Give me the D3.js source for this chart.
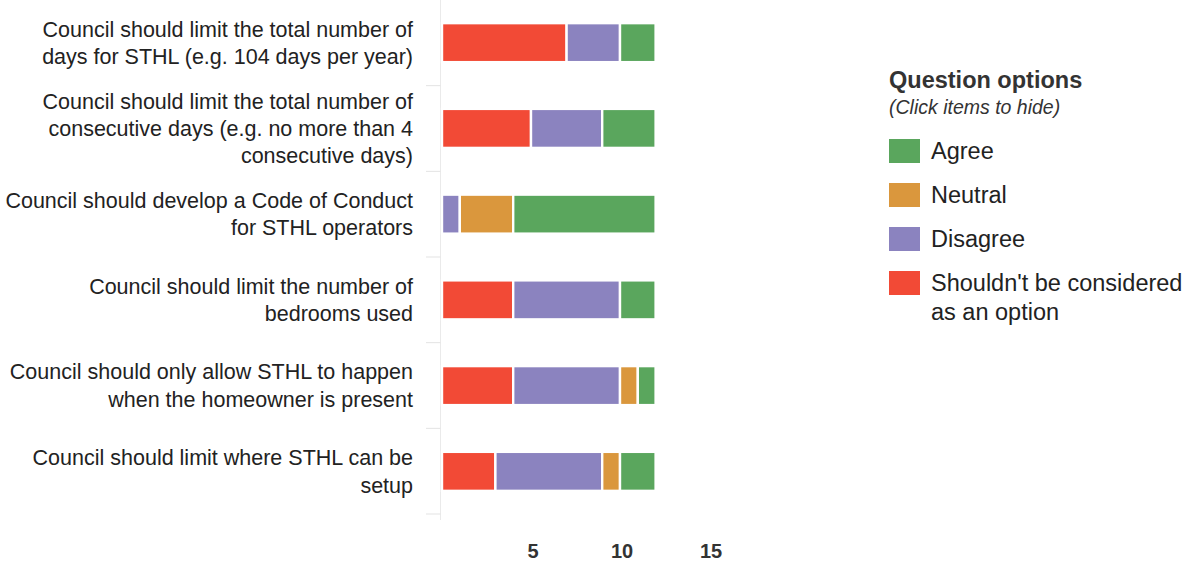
<!DOCTYPE html>
<html>
<head>
<meta charset="utf-8">
<script src="https://cdn.jsdelivr.net/npm/d3@7"></script>
<style>
  html, body { margin: 0; padding: 0; background: #fff; }
  svg { display: block; font-family: "Liberation Sans", Arial, Helvetica, sans-serif; }
</style>
</head>
<body>
<svg id="chart" width="1190" height="568"></svg>
<script>
// Survey statements (line breaks as displayed)
const categories = [
  "Council should limit the total number of\ndays for STHL (e.g. 104 days per year)",
  "Council should limit the total number of\nconsecutive days (e.g. no more than 4\nconsecutive days)",
  "Council should develop a Code of Conduct\nfor STHL operators",
  "Council should limit the number of\nbedrooms used",
  "Council should only allow STHL to happen\nwhen the homeowner is present",
  "Council should limit where STHL can be\nsetup"
];

// Response counts per statement (stacked left to right)
const shouldntValues = [7, 5, 0, 4, 4, 3];
const disagreeValues = [3, 4, 1, 6, 6, 6];
const neutralValues  = [0, 0, 3, 0, 1, 1];
const agreeValues    = [2, 3, 8, 2, 1, 2];

const seriesNames  = ["Shouldn't be considered as an option", "Disagree", "Neutral", "Agree"];
const seriesColors = ["#f24a36", "#8b83bf", "#da973d", "#5aa65d"];
const legendOrder  = ["Agree", "Neutral", "Disagree", "Shouldn't be considered as an option"];
const xTicks = [5, 10, 15];

const svg = d3.select("#chart");
const plot = { left: 442, top: 0, bottom: 514 };

const x = d3.scaleLinear().domain([0, 15]).range([plot.left, plot.left + 15 * 17.8]);
const y = d3.scaleBand().domain(d3.range(categories.length)).range([plot.top, plot.bottom]).paddingInner(0.545).paddingOuter(0.27);

const rows = categories.map((c, i) => ({
  [seriesNames[0]]: shouldntValues[i],
  [seriesNames[1]]: disagreeValues[i],
  [seriesNames[2]]: neutralValues[i],
  [seriesNames[3]]: agreeValues[i],
  idx: i
}));
const stacked = d3.stack().keys(seriesNames)(rows);
const color = d3.scaleOrdinal().domain(seriesNames).range(seriesColors);

// Vertical axis line and band separators
const bandStep = (plot.bottom - plot.top) / categories.length;
svg.append("line")
  .attr("x1", plot.left - 1.5).attr("x2", plot.left - 1.5)
  .attr("y1", 0).attr("y2", plot.bottom + 6)
  .attr("stroke", "#eaeaea").attr("stroke-width", 1);
svg.append("g").selectAll("line")
  .data(d3.range(1, categories.length + 1))
  .join("line")
  .attr("x1", plot.left - 16).attr("x2", plot.left - 1.5)
  .attr("y1", d => plot.top + d * bandStep).attr("y2", d => plot.top + d * bandStep)
  .attr("stroke", "#e3e3e3").attr("stroke-width", 1);

// Stacked bars
svg.append("g").selectAll("g")
  .data(stacked)
  .join("g")
  .attr("fill", d => color(d.key))
  .selectAll("rect")
  .data(d => d.filter(s => s[1] - s[0] > 0))
  .join("rect")
  .attr("x", d => x(d[0]))
  .attr("width", d => x(d[1]) - x(d[0]))
  .attr("y", d => y(d.data.idx))
  .attr("height", y.bandwidth())
  .attr("stroke", "#fff")
  .attr("stroke-width", 2.4);

// Category labels
const labelG = svg.append("g").attr("fill", "#222").attr("font-size", 21.5).attr("text-anchor", "end");
categories.forEach((c, i) => {
  const lines = c.split("\n");
  const lh = 27.3;
  const cy = y(i) + y.bandwidth() / 2;
  const y0 = cy - (lines.length - 1) * lh / 2;
  const t = labelG.append("text").attr("x", 413).attr("y", y0);
  lines.forEach((ln, k) => {
    t.append("tspan").attr("x", 413).attr("y", y0 + k * lh).attr("dy", "0.35em").text(ln);
  });
});

// Horizontal axis tick labels
const xAxis = d3.axisBottom(x).tickValues(xTicks).tickSize(0).tickFormat(d3.format("d"));
svg.append("g")
  .attr("transform", `translate(1.5,${541})`)
  .call(xAxis)
  .call(g => g.select(".domain").remove())
  .call(g => g.selectAll("text")
    .attr("font-size", 20).attr("font-weight", "bold").attr("fill", "#333")
    .attr("font-family", "Liberation Sans, Arial, sans-serif"));

// Legend
const legend = svg.append("g").attr("transform", "translate(889,0)");
legend.append("text").attr("x", 0).attr("y", 88)
  .attr("font-size", 23.5).attr("font-weight", "bold").attr("fill", "#333")
  .text("Question options");
legend.append("text").attr("x", 0).attr("y", 114)
  .attr("font-size", 19.5).attr("font-style", "italic").attr("fill", "#333")
  .text("(Click items to hide)");
const legendY = [151, 195, 239, 283];
legendOrder.forEach((name, i) => {
  const item = legend.append("g").attr("transform", `translate(0,${legendY[i]})`);
  item.append("rect").attr("x", 0).attr("y", -12).attr("width", 31).attr("height", 24)
    .attr("fill", color(name));
  const t = item.append("text").attr("x", 42).attr("y", 0)
    .attr("font-size", 23.5).attr("fill", "#222");
  if (name.startsWith("Shouldn't")) {
    t.append("tspan").attr("x", 42).attr("y", 0).attr("dy", "0.35em").text("Shouldn't be considered");
    t.append("tspan").attr("x", 42).attr("y", 29).attr("dy", "0.35em").text("as an option");
  } else {
    t.attr("dy", "0.35em").text(name);
  }
});
</script>
</body>
</html>
